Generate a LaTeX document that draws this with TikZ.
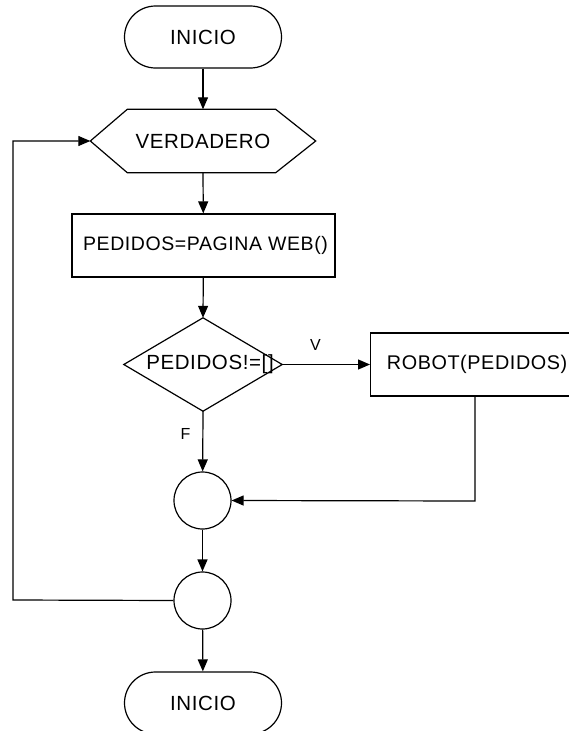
\documentclass[tikz,border=0pt]{standalone}
\usepackage{fontspec}
\setmainfont[LetterSpace=3]{Liberation Sans}
\usetikzlibrary{arrows.meta,calc}
\begin{document}
\begin{tikzpicture}[x=1pt,y=-1pt,
  every node/.style={font=\fontsize{20.5}{24}\selectfont, inner sep=0pt},
  line/.style={line width=1.2pt},
  flow/.style={line, -{Triangle[length=12pt,width=10pt]}},
  terminal/.style={draw, line width=1.2pt, rounded corners=31pt, minimum width=157pt, minimum height=62pt},
  process/.style={draw, line width=1.2pt, rectangle},
  junction/.style={draw, line width=1.2pt, circle, minimum size=57pt},
  tag/.style={font=\fontsize{16}{18}\selectfont}
]
\useasboundingbox (0,0) rectangle (568,731);

% start
\node[terminal] (start) at (203,37) {INICIO};

% loop header (hexagon)
\node[minimum width=225pt, minimum height=63pt] (loop) at (203,141) {VERDADERO};
\draw[line] (loop.west) -- ($(loop.north west)+(37,0)$) -- ($(loop.north east)+(-40,0)$)
  -- (loop.east) -- ($(loop.south east)+(-40,0)$) -- ($(loop.south west)+(37,0)$) -- cycle;

% fetch orders
\node[process, minimum width=263pt, minimum height=63pt, font=\fontsize{19.5}{23}\selectfont] (fetch) at (203.5,245.5) {\hspace*{4pt}PEDIDOS=PAGINA WEB()};

% decision (diamond)
\node[minimum width=158pt, minimum height=93pt] (test) at (203,364.5) {\hspace*{14pt}PEDIDOS!=[]};
\draw[line] (test.north) -- (test.east) -- (test.south) -- (test.west) -- cycle;

% robot call
\node[process, minimum width=230pt, minimum height=63pt, anchor=west, font=\fontsize{19.8}{23}\selectfont] (robot) at (370,364.5) {\hspace*{-17pt}ROBOT(PEDIDOS)};

% merge points
\node[junction] (merge) at (202.5,500.5) {};
\node[junction] (join) at (202.5,600.5) {};

% end
\node[terminal] (stop) at (203,703) {INICIO};

% connectors
\draw[flow] (start) -- (loop.north);
\draw[flow] (loop.south) -- (fetch);
\draw[flow] (fetch) -- (test.north);
\draw[flow] (test.east) -- (robot.west) node[tag, pos=0.38, above=13pt] {V};
\draw[flow] (test.south) -- (merge) node[tag, pos=0.38, left=12pt] {F};
\coordinate (rturn) at (475,501);
\draw[flow] (robot.south -| rturn) -- (rturn) -- (merge.east);
\draw[flow] (merge) -- (join);
\coordinate (lturn) at (13,600);
\draw[flow] (join.west) -- (lturn) |- (loop.west);
\draw[flow] (join) -- (stop);
\end{tikzpicture}
\end{document}
